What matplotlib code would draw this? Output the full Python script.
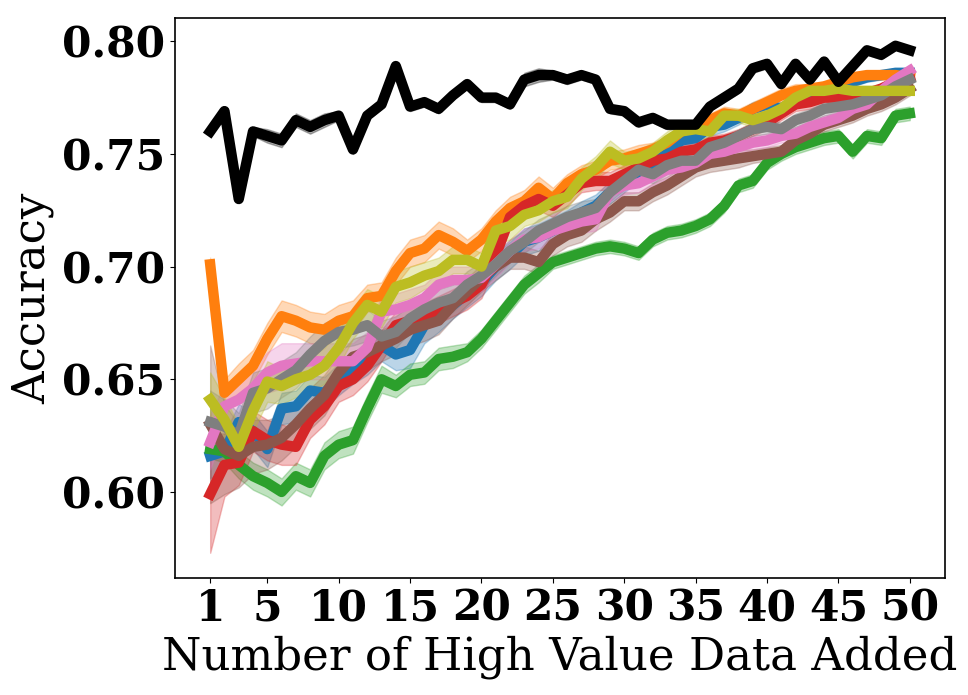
import numpy as np
import matplotlib.pyplot as plt

n_added = np.arange(1, 51)

# mean accuracy per method
acc_blue = [0.616, 0.618, 0.631, 0.627, 0.619, 0.637, 0.638, 0.645, 0.644, 0.650,
            0.655, 0.659, 0.665, 0.661, 0.663, 0.674, 0.678, 0.683, 0.688, 0.693,
            0.700, 0.705, 0.711, 0.713, 0.716, 0.720, 0.724, 0.727, 0.733, 0.738,
            0.742, 0.746, 0.750, 0.756, 0.757, 0.762, 0.763, 0.766, 0.770, 0.772,
            0.770, 0.774, 0.777, 0.779, 0.780, 0.782, 0.784, 0.785, 0.786, 0.786]
acc_orange = [0.701, 0.644, 0.650, 0.656, 0.668, 0.678, 0.676, 0.673, 0.672, 0.676,
              0.678, 0.686, 0.687, 0.698, 0.706, 0.708, 0.714, 0.711, 0.707, 0.712,
              0.720, 0.726, 0.729, 0.735, 0.730, 0.737, 0.741, 0.743, 0.747, 0.748,
              0.750, 0.752, 0.755, 0.760, 0.762, 0.765, 0.768, 0.767, 0.770, 0.773,
              0.776, 0.778, 0.779, 0.780, 0.782, 0.784, 0.785, 0.785, 0.785, 0.784]
acc_green = [0.619, 0.618, 0.612, 0.607, 0.604, 0.600, 0.607, 0.604, 0.616, 0.621,
             0.623, 0.637, 0.650, 0.647, 0.652, 0.653, 0.659, 0.660, 0.662, 0.668,
             0.676, 0.684, 0.692, 0.697, 0.702, 0.704, 0.706, 0.708, 0.709, 0.708,
             0.706, 0.712, 0.715, 0.716, 0.718, 0.721, 0.727, 0.736, 0.738, 0.746,
             0.750, 0.753, 0.755, 0.757, 0.758, 0.751, 0.758, 0.757, 0.767, 0.768]
acc_red = [0.599, 0.612, 0.613, 0.627, 0.623, 0.621, 0.620, 0.632, 0.638, 0.647,
           0.650, 0.656, 0.665, 0.674, 0.676, 0.678, 0.681, 0.684, 0.687, 0.692,
           0.705, 0.722, 0.727, 0.730, 0.727, 0.732, 0.737, 0.738, 0.738, 0.741,
           0.744, 0.747, 0.748, 0.751, 0.752, 0.755, 0.756, 0.758, 0.761, 0.764,
           0.768, 0.772, 0.773, 0.775, 0.775, 0.776, 0.777, 0.779, 0.782, 0.784]
acc_brown = [0.630, 0.619, 0.616, 0.620, 0.621, 0.624, 0.630, 0.637, 0.643, 0.653,
             0.660, 0.662, 0.665, 0.668, 0.672, 0.674, 0.676, 0.683, 0.689, 0.695,
             0.700, 0.704, 0.704, 0.702, 0.710, 0.714, 0.716, 0.721, 0.724, 0.729,
             0.729, 0.733, 0.736, 0.740, 0.744, 0.746, 0.747, 0.748, 0.749, 0.750,
             0.751, 0.756, 0.759, 0.763, 0.765, 0.767, 0.770, 0.772, 0.775, 0.779]
acc_pink = [0.622, 0.638, 0.641, 0.646, 0.653, 0.656, 0.657, 0.658, 0.658, 0.658,
            0.658, 0.664, 0.680, 0.681, 0.683, 0.686, 0.692, 0.694, 0.694, 0.695,
            0.701, 0.707, 0.712, 0.713, 0.716, 0.718, 0.720, 0.721, 0.733, 0.736,
            0.737, 0.740, 0.743, 0.744, 0.746, 0.750, 0.751, 0.753, 0.755, 0.756,
            0.758, 0.759, 0.762, 0.764, 0.766, 0.770, 0.772, 0.778, 0.783, 0.787]
acc_gray = [0.631, 0.629, 0.625, 0.644, 0.646, 0.650, 0.654, 0.661, 0.667, 0.671,
            0.672, 0.674, 0.669, 0.671, 0.677, 0.681, 0.684, 0.686, 0.692, 0.696,
            0.701, 0.707, 0.711, 0.716, 0.719, 0.722, 0.724, 0.726, 0.733, 0.738,
            0.743, 0.741, 0.745, 0.747, 0.747, 0.753, 0.755, 0.758, 0.761, 0.762,
            0.761, 0.765, 0.767, 0.770, 0.771, 0.772, 0.774, 0.776, 0.780, 0.783]
acc_olive = [0.641, 0.632, 0.620, 0.636, 0.649, 0.647, 0.650, 0.652, 0.656, 0.664,
             0.675, 0.683, 0.680, 0.691, 0.693, 0.696, 0.698, 0.703, 0.703, 0.700,
             0.716, 0.718, 0.723, 0.725, 0.729, 0.731, 0.739, 0.744, 0.751, 0.747,
             0.748, 0.751, 0.756, 0.760, 0.761, 0.760, 0.767, 0.767, 0.765, 0.767,
             0.770, 0.775, 0.778, 0.778, 0.779, 0.778, 0.778, 0.778, 0.778, 0.778]
acc_black = [0.760, 0.769, 0.730, 0.760, 0.758, 0.756, 0.765, 0.762, 0.765, 0.767,
             0.752, 0.767, 0.772, 0.789, 0.771, 0.773, 0.770, 0.776, 0.781, 0.775,
             0.775, 0.772, 0.783, 0.785, 0.785, 0.783, 0.785, 0.783, 0.770, 0.769,
             0.764, 0.766, 0.763, 0.763, 0.763, 0.771, 0.775, 0.779, 0.788, 0.790,
             0.781, 0.790, 0.783, 0.791, 0.782, 0.789, 0.796, 0.794, 0.798, 0.796]

# standard deviation bands
std_blue = [0.010, 0.008, 0.008, 0.008, 0.008, 0.007, 0.007, 0.007, 0.007, 0.007,
            0.007, 0.007, 0.007, 0.007, 0.008, 0.008, 0.007, 0.006, 0.006, 0.006,
            0.006, 0.006, 0.006, 0.006, 0.006, 0.005, 0.005, 0.005, 0.005, 0.005,
            0.004, 0.004, 0.004, 0.004, 0.004, 0.004, 0.003, 0.003, 0.003, 0.003,
            0.003, 0.003, 0.003, 0.003, 0.003, 0.002, 0.002, 0.002, 0.002, 0.002]
std_orange = [0.003, 0.006, 0.007, 0.007, 0.007, 0.007, 0.007, 0.007, 0.007, 0.007,
              0.007, 0.006, 0.006, 0.006, 0.006, 0.006, 0.006, 0.006, 0.005, 0.005,
              0.005, 0.005, 0.005, 0.005, 0.005, 0.004, 0.004, 0.004, 0.004, 0.004,
              0.004, 0.003, 0.003, 0.003, 0.003, 0.003, 0.003, 0.003, 0.003, 0.003,
              0.003, 0.003, 0.002, 0.002, 0.002, 0.002, 0.002, 0.002, 0.002, 0.002]
std_green = [0.004, 0.005, 0.006, 0.006, 0.006, 0.006, 0.006, 0.006, 0.006, 0.006,
             0.006, 0.006, 0.006, 0.005, 0.005, 0.005, 0.005, 0.005, 0.004, 0.004,
             0.004, 0.004, 0.004, 0.004, 0.003, 0.003, 0.003, 0.003, 0.003, 0.003,
             0.003, 0.003, 0.003, 0.003, 0.003, 0.003, 0.003, 0.003, 0.003, 0.003,
             0.003, 0.003, 0.003, 0.003, 0.003, 0.003, 0.003, 0.003, 0.003, 0.003]
std_red = [0.026, 0.014, 0.010, 0.009, 0.009, 0.009, 0.008, 0.008, 0.008, 0.007,
           0.007, 0.007, 0.007, 0.006, 0.006, 0.006, 0.006, 0.006, 0.006, 0.006,
           0.005, 0.005, 0.005, 0.005, 0.005, 0.005, 0.004, 0.004, 0.004, 0.004,
           0.004, 0.004, 0.004, 0.003, 0.003, 0.003, 0.003, 0.003, 0.003, 0.003,
           0.003, 0.003, 0.003, 0.003, 0.002, 0.002, 0.002, 0.002, 0.002, 0.002]
std_brown = [0.035, 0.020, 0.014, 0.012, 0.011, 0.010, 0.010, 0.009, 0.009, 0.008,
             0.008, 0.008, 0.007, 0.007, 0.007, 0.007, 0.006, 0.006, 0.006, 0.006,
             0.006, 0.005, 0.005, 0.005, 0.005, 0.005, 0.005, 0.005, 0.004, 0.004,
             0.004, 0.004, 0.004, 0.004, 0.004, 0.004, 0.004, 0.004, 0.003, 0.003,
             0.003, 0.003, 0.003, 0.003, 0.003, 0.003, 0.003, 0.003, 0.003, 0.003]
std_pink = [0.012, 0.010, 0.009, 0.009, 0.009, 0.010, 0.009, 0.008, 0.008, 0.008,
            0.008, 0.007, 0.007, 0.007, 0.007, 0.006, 0.006, 0.006, 0.006, 0.006,
            0.006, 0.005, 0.005, 0.005, 0.005, 0.005, 0.005, 0.005, 0.004, 0.004,
            0.004, 0.004, 0.004, 0.004, 0.004, 0.003, 0.003, 0.003, 0.003, 0.003,
            0.003, 0.003, 0.003, 0.003, 0.003, 0.003, 0.002, 0.002, 0.002, 0.002]
std_gray = [0.014, 0.012, 0.010, 0.009, 0.009, 0.008, 0.008, 0.008, 0.008, 0.007,
            0.007, 0.007, 0.007, 0.007, 0.006, 0.006, 0.006, 0.006, 0.006, 0.006,
            0.005, 0.005, 0.005, 0.005, 0.005, 0.005, 0.005, 0.004, 0.004, 0.004,
            0.004, 0.004, 0.004, 0.004, 0.004, 0.003, 0.003, 0.003, 0.003, 0.003,
            0.003, 0.003, 0.003, 0.003, 0.003, 0.003, 0.003, 0.002, 0.002, 0.002]
std_olive = [0.012, 0.010, 0.010, 0.009, 0.009, 0.008, 0.008, 0.008, 0.008, 0.008,
             0.007, 0.007, 0.007, 0.007, 0.007, 0.006, 0.006, 0.006, 0.006, 0.006,
             0.006, 0.006, 0.005, 0.005, 0.005, 0.005, 0.005, 0.005, 0.005, 0.004,
             0.004, 0.004, 0.004, 0.004, 0.004, 0.003, 0.003, 0.003, 0.003, 0.003,
             0.003, 0.003, 0.003, 0.003, 0.003, 0.002, 0.002, 0.002, 0.002, 0.002]
std_black = [0.001, 0.001, 0.001, 0.002, 0.003, 0.003, 0.003, 0.003, 0.003, 0.002,
             0.002, 0.002, 0.002, 0.002, 0.002, 0.002, 0.002, 0.002, 0.002, 0.002,
             0.002, 0.002, 0.003, 0.003, 0.002, 0.002, 0.002, 0.002, 0.002, 0.002,
             0.002, 0.002, 0.002, 0.002, 0.002, 0.002, 0.002, 0.002, 0.002, 0.002,
             0.002, 0.002, 0.002, 0.002, 0.002, 0.002, 0.002, 0.002, 0.001, 0.001]

series = [
    (acc_blue, std_blue, "tab:blue"),
    (acc_orange, std_orange, "tab:orange"),
    (acc_green, std_green, "tab:green"),
    (acc_red, std_red, "tab:red"),
    (acc_brown, std_brown, "tab:brown"),
    (acc_pink, std_pink, "tab:pink"),
    (acc_gray, std_gray, "tab:gray"),
    (acc_olive, std_olive, "tab:olive"),
    (acc_black, std_black, "black"),
]

plt.rcParams["font.family"] = "DejaVu Serif"

fig = plt.figure(figsize=(9.68, 6.95), dpi=100)
ax = fig.add_axes([0.181, 0.168, 0.795, 0.806])

for mean, std, color in series:
    mean = np.array(mean)
    std = np.array(std)
    ax.plot(n_added, mean, color=color, linewidth=7.5)
    ax.fill_between(n_added, mean - std, mean + std, color=color, alpha=0.3)

ax.set_xticks([1, 5, 10, 15, 20, 25, 30, 35, 40, 45, 50])
ax.set_yticks([0.60, 0.65, 0.70, 0.75, 0.80])
ax.set_yticklabels(["0.60", "0.65", "0.70", "0.75", "0.80"])
ax.tick_params(labelsize=30.5)
for lbl in ax.get_xticklabels() + ax.get_yticklabels():
    lbl.set_fontweight("bold")

ax.set_xlabel("Number of High Value Data Added", fontsize=32.5, labelpad=4)
ax.set_ylabel("Accuracy", fontsize=32.5, labelpad=6)
for sp in ax.spines.values():
    sp.set_linewidth(1.2)

fig.savefig("out.png", dpi=100)
